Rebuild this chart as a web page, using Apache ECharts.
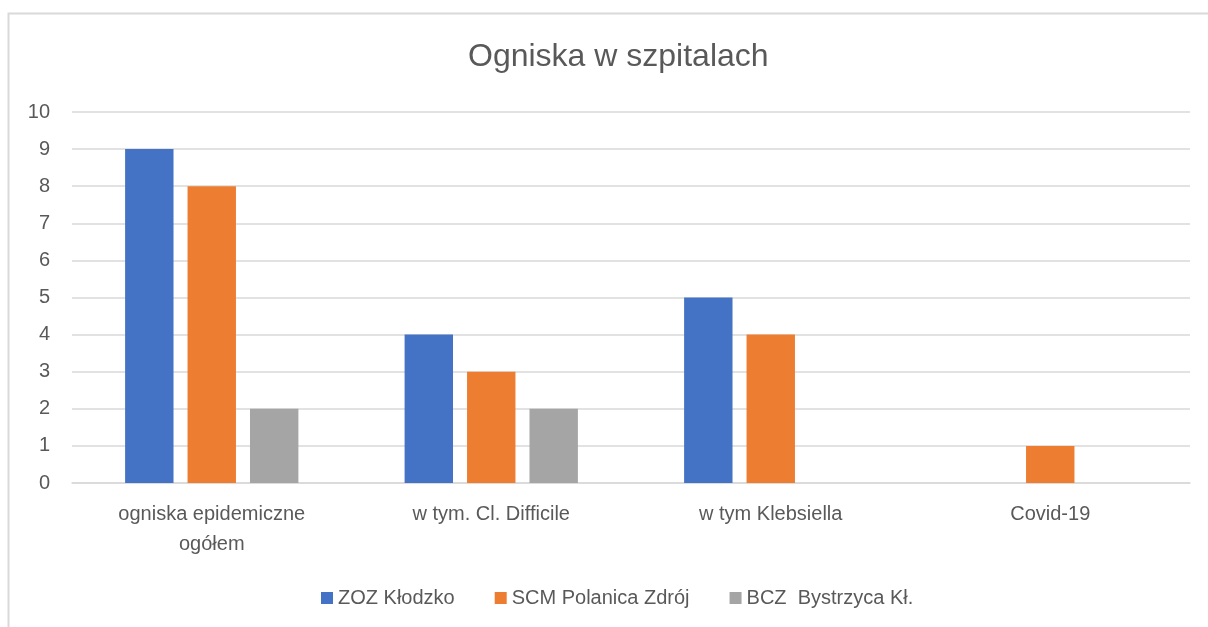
<!DOCTYPE html>
<html>
<head>
<meta charset="utf-8">
<script src="https://cdn.jsdelivr.net/npm/echarts@6/dist/echarts.min.js"></script>
<style>
  html, body { margin: 0; padding: 0; background: #fff; }
  #chart { width: 1208px; height: 627px; }
</style>
</head>
<body>
<div id="chart"></div>
<script>
var categories = ['ogniska epidemiczne\nogółem', 'w tym. Cl. Difficile', 'w tym Klebsiella', 'Covid-19'];
var seriesNames = ['ZOZ Kłodzko', 'SCM Polanica Zdrój', 'BCZ  Bystrzyca Kł.'];
var zozValues = [9, 4, 5, 0];
var scmValues = [8, 3, 4, 1];
var bczValues = [2, 2, 0, 0];
var colors = ['#4472c4', '#ed7d31', '#a5a5a5'];

var font = 'Liberation Sans';
var textColor = '#595959';

var chart = echarts.init(document.getElementById('chart'));

var option = {
    animation: false,
    color: colors,
    // outer chart frame (cut off on the right and bottom in the source)
    graphic: [{
        type: 'rect',
        shape: { x: 8.5, y: 13.5, width: 1300, height: 700 },
        style: { fill: 'none', stroke: '#d9d9d9', lineWidth: 2 },
        silent: true
    }],
    title: {
        text: 'Ogniska w szpitalach',
        left: 463,
        top: 36,
        textStyle: { fontFamily: font, fontSize: 32, fontWeight: 'normal', color: textColor }
    },
    legend: {
        top: 583,
        left: 316,
        itemWidth: 12,
        itemHeight: 12,
        itemGap: 40,
        icon: 'rect',
        textStyle: { fontFamily: font, fontSize: 20, color: textColor },
        data: seriesNames
    },
    grid: {
        left: 72,
        right: 18,
        top: 112,
        bottom: 144,
        containLabel: false
    },
    xAxis: {
        type: 'category',
        data: categories,
        axisLine: { lineStyle: { color: '#d9d9d9', width: 1.5 } },
        axisTick: { show: false },
        axisLabel: {
            fontFamily: font, fontSize: 20, color: textColor,
            margin: 16, lineHeight: 30, interval: 0
        }
    },
    yAxis: {
        type: 'value',
        min: 0,
        max: 10,
        interval: 1,
        axisLine: { show: false },
        axisTick: { show: false },
        axisLabel: { fontFamily: font, fontSize: 20, color: textColor, margin: 22 },
        splitLine: { lineStyle: { color: '#d9d9d9', width: 1.5 } }
    },
    series: [
        { name: seriesNames[0], type: 'bar', data: zozValues, barGap: '29%', barCategoryGap: '38%' },
        { name: seriesNames[1], type: 'bar', data: scmValues, barGap: '29%', barCategoryGap: '38%' },
        { name: seriesNames[2], type: 'bar', data: bczValues, barGap: '29%', barCategoryGap: '38%' }
    ]
};

chart.setOption(option);
</script>
</body>
</html>
